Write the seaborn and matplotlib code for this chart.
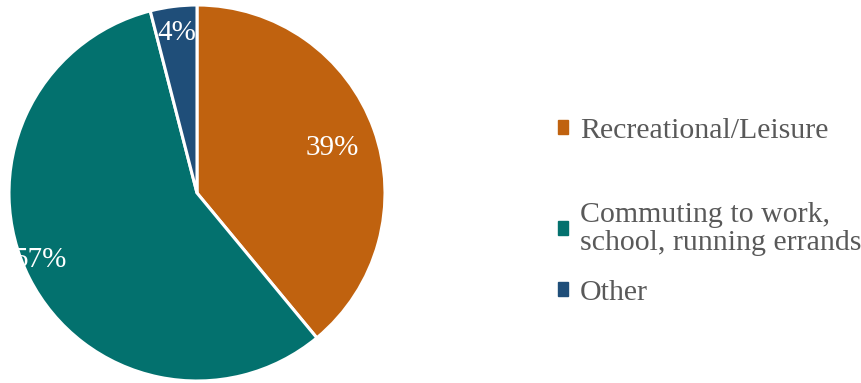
import numpy as np
import matplotlib
matplotlib.use("Agg")
import matplotlib.pyplot as plt
from matplotlib.patches import Patch
import seaborn as sns

categories = ["Recreational/Leisure", "Commuting to work,\nschool, running errands", "Other"]
shares = [39, 57, 4]
colors = ["#C0620F", "#03716E", "#1F4E79"]
label_dist = [0.76, 0.91, 0.86]
label_turn = [-1.5, -4.0, 0.0]

sns.set_theme(style="white")
plt.rcParams["font.family"] = ["Liberation Serif", "DejaVu Serif"]

W, H = 861, 383
fig = plt.figure(figsize=(W / 100, H / 100), dpi=100)
cx, cy, r = 197, 193, 188
ax = fig.add_axes([(cx - r) / W, (H - cy - r) / H, 2 * r / W, 2 * r / H])

wedges, texts, autotexts = ax.pie(
    shares, colors=colors, startangle=90, counterclock=False,
    autopct=lambda p: f"{p:.0f}%", pctdistance=0.8,
    wedgeprops=dict(edgecolor="white", linewidth=2.2),
    textprops=dict(color="white", fontsize=21),
)
for w, t, d, turn in zip(wedges, autotexts, label_dist, label_turn):
    mid = np.deg2rad((w.theta1 + w.theta2) / 2 + turn)
    t.set_position((d * np.cos(mid), d * np.sin(mid)))
ax.set_xlim(-1, 1)
ax.set_ylim(-1, 1)
ax.set_aspect("equal")
ax.axis("off")

# legend entries, one block each so their vertical spacing can be set
entry_y = [131, 229, 293]
for lab, col, y in zip(categories, colors, entry_y):
    lg = fig.legend(
        handles=[Patch(facecolor=col, edgecolor=col)], labels=[lab],
        loc="center left", bbox_to_anchor=(558 / W, 1 - y / H),
        frameon=False, fontsize=21.5, labelcolor="#595959",
        handlelength=0.34, handleheight=0.34, handletextpad=0.4,
        borderpad=0, borderaxespad=0,
    )
    for t in lg.get_texts():
        t.set_linespacing(1.12)

fig.savefig("out.png", dpi=100)
